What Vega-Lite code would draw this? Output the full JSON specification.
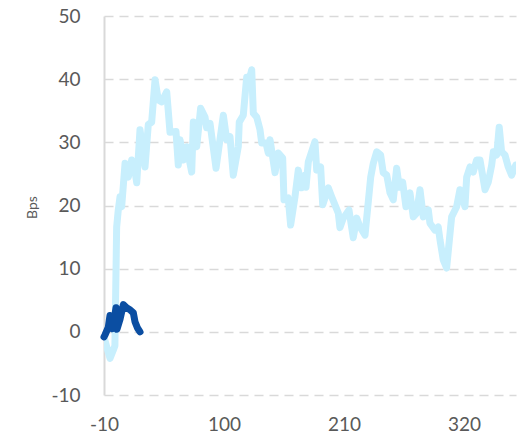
{
  "$schema": "https://vega.github.io/schema/vega-lite/v6.json",
  "autosize": {"type": "none"},
  "width": 412,
  "height": 379,
  "padding": {"left": 104, "top": 16, "right": 2, "bottom": 43},
  "background": "white",
  "config": {"view": {"stroke": null}, "font": "Lato"},
  "datasets": {
    "light": [
      {"x": -10, "y": -0.8}, {"x": -7.3, "y": -2.5}, {"x": -4.5, "y": -4.2}, {"x": -1.7, "y": -3.0},
      {"x": 0, "y": -2.2}, {"x": 1.6, "y": 16.6}, {"x": 3.1, "y": 19.3}, {"x": 4.7, "y": 21.4},
      {"x": 6.2, "y": 19.8}, {"x": 9.3, "y": 26.7}, {"x": 12.3, "y": 24.5}, {"x": 15.4, "y": 27.2},
      {"x": 17.5, "y": 26.5}, {"x": 20.0, "y": 23.6}, {"x": 23.0, "y": 32}, {"x": 27.6, "y": 26.1},
      {"x": 30.6, "y": 32.8}, {"x": 33.7, "y": 33.2}, {"x": 36.8, "y": 39.9}, {"x": 39.8, "y": 36.7},
      {"x": 42.9, "y": 36.4}, {"x": 47.5, "y": 38}, {"x": 50.5, "y": 31.6}, {"x": 56.0, "y": 31.7},
      {"x": 58.1, "y": 26.4}, {"x": 59.7, "y": 30.4}, {"x": 62.7, "y": 27.2}, {"x": 65.8, "y": 29.3},
      {"x": 70.4, "y": 25.3}, {"x": 71.9, "y": 33.2}, {"x": 75.0, "y": 29.3}, {"x": 78.6, "y": 35.4},
      {"x": 82.6, "y": 34}, {"x": 84.1, "y": 32.3}, {"x": 87.2, "y": 33}, {"x": 92.7, "y": 25.9},
      {"x": 96.3, "y": 30.4}, {"x": 99.4, "y": 34.3}, {"x": 102.5, "y": 30.4}, {"x": 105.5, "y": 30.9},
      {"x": 108.5, "y": 24.8}, {"x": 113.1, "y": 29.3}, {"x": 114.0, "y": 33.2}, {"x": 117.7, "y": 34.3},
      {"x": 120.8, "y": 40.3}, {"x": 123.2, "y": 39.9}, {"x": 125.4, "y": 41.5}, {"x": 126.9, "y": 34.6},
      {"x": 130.0, "y": 34}, {"x": 133.0, "y": 32}, {"x": 134.6, "y": 29.9}, {"x": 138.5, "y": 29.9},
      {"x": 140.6, "y": 28.3}, {"x": 142.2, "y": 30.4}, {"x": 146.8, "y": 25.2}, {"x": 149.8, "y": 28.3},
      {"x": 153.8, "y": 27.5}, {"x": 155.0, "y": 20.9}, {"x": 158.9, "y": 21.2}, {"x": 161.1, "y": 16.9},
      {"x": 165.1, "y": 21.4}, {"x": 168.1, "y": 25.6}, {"x": 171.2, "y": 22.8}, {"x": 174.3, "y": 24.8},
      {"x": 175.2, "y": 22.9}, {"x": 177.3, "y": 26.9}, {"x": 183.4, "y": 30.1}, {"x": 185.0, "y": 25.6},
      {"x": 188.6, "y": 26.1}, {"x": 190.5, "y": 20.1}, {"x": 195.6, "y": 22.8}, {"x": 198.7, "y": 21.4},
      {"x": 204.8, "y": 18.8}, {"x": 206.3, "y": 16.5}, {"x": 209.4, "y": 18}, {"x": 214.6, "y": 19.3},
      {"x": 218.5, "y": 14.9}, {"x": 221.7, "y": 18}, {"x": 224.7, "y": 16.6}, {"x": 229.3, "y": 15.3},
      {"x": 232.3, "y": 20.6}, {"x": 234.5, "y": 24.5}, {"x": 236.9, "y": 26.7}, {"x": 240.0, "y": 28.5},
      {"x": 243.6, "y": 28}, {"x": 246.0, "y": 25.2}, {"x": 249.2, "y": 24.8}, {"x": 252.2, "y": 22},
      {"x": 255.2, "y": 20.9}, {"x": 258.3, "y": 25.9}, {"x": 260.7, "y": 22.9}, {"x": 263.8, "y": 23.7},
      {"x": 266.8, "y": 19.8}, {"x": 270.5, "y": 22}, {"x": 273.5, "y": 18.2}, {"x": 276.6, "y": 18.8},
      {"x": 279.7, "y": 22.5}, {"x": 282.7, "y": 18.2}, {"x": 287.3, "y": 19.3}, {"x": 288.8, "y": 17.2},
      {"x": 293.4, "y": 16.1}, {"x": 296.4, "y": 16.6}, {"x": 298.0, "y": 14.6}, {"x": 301.0, "y": 11.4},
      {"x": 304.1, "y": 10.1}, {"x": 308.7, "y": 18.2}, {"x": 313.3, "y": 19.8}, {"x": 316.3, "y": 22.5},
      {"x": 320.9, "y": 19.8}, {"x": 322.5, "y": 24.5}, {"x": 325.5, "y": 26.1}, {"x": 328.5, "y": 25.3},
      {"x": 331.6, "y": 27.2}, {"x": 334.7, "y": 27.2}, {"x": 339.3, "y": 22.5}, {"x": 342.3, "y": 23.7},
      {"x": 345.4, "y": 26.4}, {"x": 346.9, "y": 28.5}, {"x": 350.0, "y": 28}, {"x": 352.3, "y": 32.4},
      {"x": 354.5, "y": 28.5}, {"x": 357.6, "y": 28}, {"x": 360.6, "y": 26.1}, {"x": 363.7, "y": 24.8},
      {"x": 367.5, "y": 26.4}
    ],
    "dark": [
      {"x": -10, "y": -0.8}, {"x": -9.1, "y": -0.5}, {"x": -6.1, "y": 0.7}, {"x": -4.5, "y": 2.6},
      {"x": -2.0, "y": 0.5}, {"x": 1.0, "y": 3.8}, {"x": 1.9, "y": 0.4}, {"x": 4.7, "y": 2.0},
      {"x": 7.7, "y": 4.3}, {"x": 10.8, "y": 3.8}, {"x": 13.8, "y": 3.5}, {"x": 16.9, "y": 3.0},
      {"x": 18.4, "y": 1.6}, {"x": 20.7, "y": 0.6}, {"x": 23.0, "y": 0}
    ]
  },
  "layer": [
    {
      "data": {"name": "light"},
      "mark": {"type": "line", "color": "#c8effd", "strokeWidth": 7, "strokeJoin": "round", "strokeCap": "round", "clip": true},
      "encoding": {
        "x": {
          "field": "x", "type": "quantitative",
          "scale": {"domain": [-10, 367.7], "nice": false, "zero": false},
          "axis": {
            "values": [-10, 100, 210, 320], "title": null, "grid": false, "domain": false, "ticks": false,
            "labelFlush": false, "labelExpr": "replace(datum.label, '\u2212', '-')",
            "labelFontSize": 19, "labelColor": "#595959", "labelPadding": 20, "labelFont": "Lato"
          }
        },
        "y": {
          "field": "y", "type": "quantitative",
          "scale": {"domain": [-10, 50], "nice": false},
          "axis": {
            "values": [-10, 0, 10, 20, 30, 40, 50], "title": "Bps", "titleFontSize": 14, "titleFontWeight": "normal",
            "titleColor": "#595959", "titleFont": "Lato", "titleX": -72, "titleY": 191, "titleAngle": -90,
            "titleAlign": "center", "titleBaseline": "middle",
            "labelExpr": "replace(datum.label, '\u2212', '-')",
            "grid": true, "gridDash": [9, 6], "gridColor": "#d9d9d9", "gridWidth": 1.5,
            "domain": true, "domainColor": "#d9d9d9", "domainWidth": 2, "ticks": false,
            "labelFontSize": 19, "labelColor": "#595959", "labelPadding": 24, "labelFont": "Lato"
          }
        }
      }
    },
    {
      "mark": {"type": "rule", "color": "#d9d9d9", "strokeWidth": 2},
      "encoding": {"y": {"datum": 0, "type": "quantitative"}}
    },
    {
      "mark": {"type": "rule", "color": "#c8c8c8", "strokeWidth": 1},
      "encoding": {"x": {"datum": 0, "type": "quantitative"}}
    },
    {
      "data": {"name": "dark"},
      "mark": {"type": "line", "color": "#0b4ea2", "strokeWidth": 7, "strokeJoin": "round", "strokeCap": "round"},
      "encoding": {
        "x": {"field": "x", "type": "quantitative"},
        "y": {"field": "y", "type": "quantitative"}
      }
    }
  ]
}
